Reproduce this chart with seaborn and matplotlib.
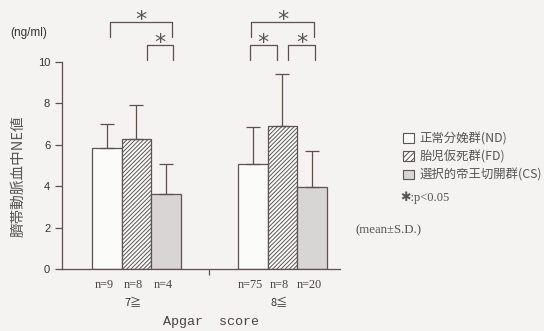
import pandas as pd
import numpy as np
import matplotlib
matplotlib.use("Agg")
import matplotlib.pyplot as plt
from matplotlib.patches import Patch
import seaborn as sns

# Apgar score groups and study groups
apgar = ["7≧", "8≦"]
groups = ["正常分娩群(ND)", "胎児仮死群(FD)", "選択的帝王切開群(CS)"]
means_7 = [5.85, 6.27, 3.6]
sd_7 = [1.15, 1.65, 1.45]
means_8 = [5.05, 6.9, 3.95]
sd_8 = [1.8, 2.5, 1.75]
n_7 = ["n=9", "n=8", "n=4"]
n_8 = ["n=75", "n=8", "n=20"]

# significance brackets: (apgar index, bar a, bar b, level, shift a, shift b)
brackets = [
    (0, 0, 2, 1, 0.02, 0.04),
    (0, 1, 2, 0, 0.07, 0.05),
    (1, 0, 2, 1, -0.01, 0.01),
    (1, 0, 1, 0, -0.02, -0.04),
    (1, 1, 2, 0, 0.04, 0.02),
]

df = pd.DataFrame({
    "apgar": [apgar[0]] * 3 + [apgar[1]] * 3,
    "group": groups * 2,
    "mean": means_7 + means_8,
    "sd": sd_7 + sd_8,
})

bg = "#f5f3f1"
ink = "#5e4e4e"
sns.set_style("ticks", {"axes.facecolor": bg, "figure.facecolor": bg})
plt.rcParams["font.family"] = ["Noto Sans CJK JP", "DejaVu Sans"]
plt.rcParams["hatch.linewidth"] = 0.7

fig = plt.figure(figsize=(5.44, 3.31), dpi=100)
fig.patch.set_facecolor(bg)
ax = fig.add_axes([62 / 544, 62 / 331, 278 / 544, 207 / 331])

colors = ["#fbfbfa", "#fbfbfa", "#d8d6d4"]
hatches = ["", "////////", ""]
sns.barplot(data=df, x="apgar", y="mean", hue="group", hue_order=groups,
            palette=colors, width=0.61, gap=0, errorbar=None,
            edgecolor="#5a5454", linewidth=0.9, legend=False, ax=ax)

bar_conts = list(ax.containers)
centers = np.zeros((2, 3))
for k, cont in enumerate(bar_conts):
    for i, bar in enumerate(cont.patches):
        bar.set_hatch(hatches[k])
        centers[i, k] = bar.get_x() + bar.get_width() / 2
        sub = df[(df["apgar"] == apgar[i]) & (df["group"] == groups[k])]
        ax.errorbar(centers[i, k], sub["mean"].iloc[0],
                    yerr=[[0], [sub["sd"].iloc[0]]], fmt="none",
                    ecolor=ink, elinewidth=0.9, capsize=5, capthick=0.9)

ax.set_xlim(-0.51, 1.394)
ax.set_ylim(0, 10)
ax.set_yticks([0, 2, 4, 6, 8, 10])
ax.set_yticklabels(["0", "2", "4", "6", "8", "10"], family="Liberation Sans",
                   fontsize=8, color="#333333")
ax.set_xticks([0.5])
ax.set_xticklabels([""])
ax.tick_params(axis="y", length=5, width=0.9, color=ink)
ax.tick_params(axis="x", length=4, width=0.9, color=ink)
ax.set_xlabel("")
ax.set_ylabel("")
sns.despine(ax=ax)
for s in ["left", "bottom"]:
    ax.spines[s].set_color(ink)
    ax.spines[s].set_linewidth(0.9)

# n labels and group labels
trans = ax.get_xaxis_transform()
for i, labels in enumerate([n_7, n_8]):
    for k, lab in enumerate(labels):
        ax.text(centers[i, k] - 0.02, -0.078, lab, transform=trans,
                ha="center", va="center", fontsize=8.8,
                family="Liberation Serif", color="#4a4444")
    ax.text(centers[i, 1] - 0.02, -0.165, apgar[i], transform=trans,
            ha="center", va="center", fontsize=8, color="#333333")
ax.text(0.51, -0.255, "Apgar  score", transform=trans, ha="center",
        va="center", fontsize=9.6, family="Liberation Mono", color="#4a4444")

# significance brackets
lev_y = [(10.8, 10.1), (11.95, 11.2)]
for gi, a, b, lev, sa, sb in brackets:
    x1 = centers[gi, a] + sa
    x2 = centers[gi, b] + sb
    top, bot = lev_y[lev]
    ax.plot([x1, x1, x2, x2], [bot, top, top, bot], color=ink, lw=0.9,
            clip_on=False)
    ax.text((x1 + x2) / 2, top + 0.1, "*", ha="center", va="center",
            fontsize=16, family="DejaVu Sans", color="#555555", clip_on=False)

fig.text(10 / 544, 1 - 33 / 331, "(ng/ml)", family="Liberation Sans",
         fontsize=8.5, color="#333333", ha="left", va="center")
fig.text(18 / 544, 1 - 176 / 331, "臍帯動脈血中NE値", rotation=90,
         fontsize=10.5, color="#555555", ha="center", va="center")

handles = [Patch(facecolor=c, edgecolor="#5a5454", hatch=h, linewidth=0.8)
           for c, h in zip(colors, ["", "//////", ""])]
fig.legend(handles=handles, labels=groups, loc="upper left",
           bbox_to_anchor=(392 / 544, 1 - 121 / 331), frameon=False,
           fontsize=8.9, handlelength=0.85, handleheight=0.85,
           handletextpad=0.5, labelspacing=0.42, labelcolor="#555555")
fig.text(400 / 544, 1 - 198 / 331, "✱:p<0.05", fontsize=9,
         family=["Liberation Serif", "DejaVu Sans"], color="#555555",
         ha="left", va="center")
fig.text(356 / 544, 1 - 230 / 331, "(mean±S.D.)", fontsize=9.2,
         family="Liberation Serif", color="#555555", ha="left", va="center")

fig.savefig("out.png", dpi=100, facecolor=bg)
